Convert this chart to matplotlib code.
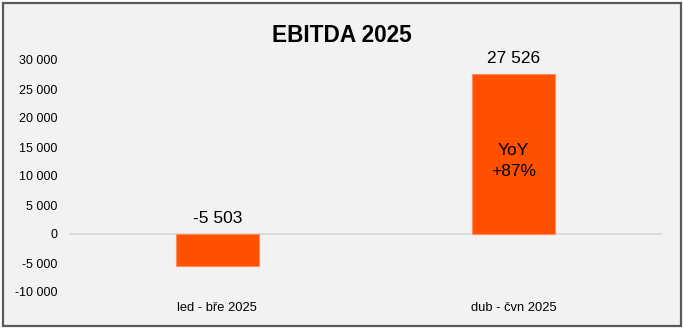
import matplotlib.pyplot as plt
import numpy as np
from matplotlib.patches import Rectangle
from matplotlib.ticker import FuncFormatter, MultipleLocator

# data
CATEGORIES = ["led - bře 2025", "dub - čvn 2025"]
EBITDA = [-5503, 27526]
YOY_LABEL = "YoY\n+87%"
TITLE = "EBITDA 2025"

BAR_COLOR = "#FF5000"
BG_COLOR = "#F2F2F2"


def _fmt_thousands(v: float) -> str:
    return f"{int(round(v)):,}".replace(",", " ")


def main() -> None:
    plt.rcParams.update(
        {
            "font.family": ["Liberation Sans", "DejaVu Sans"],
            "font.size": 9,
        }
    )

    fig = plt.figure(figsize=(6.83, 3.28), dpi=100, facecolor="white")

    # grey panel with dark frame
    fig.patches.append(
        Rectangle(
            (2.5 / 683, 2.5 / 328),
            678 / 683,
            323 / 328,
            transform=fig.transFigure,
            facecolor=BG_COLOR,
            edgecolor="#595959",
            linewidth=1.6,
            zorder=-1,
        )
    )

    ax = fig.add_axes([69 / 683, 36 / 328, 593 / 683, 232 / 328])
    ax.set_facecolor("none")
    ax.set_zorder(2)

    x = np.arange(len(CATEGORIES), dtype=float)
    ax.axhline(0, color="#D9D9D9", linewidth=1.3, zorder=1)
    bars = ax.bar(
        x,
        EBITDA,
        width=0.28,
        color=BAR_COLOR,
        edgecolor="#FF8A5C",
        linewidth=0.8,
        zorder=2,
    )

    # value labels above the bar (or above zero for negative bars)
    for b, v in zip(bars, EBITDA):
        base = max(v, 0)
        ax.annotate(
            _fmt_thousands(v),
            xy=(b.get_x() + b.get_width() / 2, base),
            xytext=(0, 6),
            textcoords="offset points",
            ha="center",
            va="bottom",
            fontsize=12.5,
            color="black",
        )

    # YoY note inside the second bar
    ax.text(
        x[1],
        EBITDA[1] * 0.46,
        YOY_LABEL,
        ha="center",
        va="center",
        fontsize=12.5,
        linespacing=1.5,
        color="black",
        zorder=3,
    )

    ax.set_xlim(-0.5, 1.5)
    ax.set_ylim(-10000, 30000)
    ax.yaxis.set_major_locator(MultipleLocator(5000))
    ax.yaxis.set_major_formatter(FuncFormatter(lambda v, _: _fmt_thousands(v)))
    ax.set_xticks(x)
    ax.set_xticklabels(CATEGORIES, fontsize=9.3)
    ax.tick_params(axis="y", length=0, pad=8.5, labelsize=9)
    ax.tick_params(axis="x", length=0, pad=7)
    for s in ax.spines.values():
        s.set_visible(False)

    fig.text(
        0.5007,
        1 - 36 / 328,
        TITLE,
        ha="center",
        va="center",
        fontsize=16.3,
        fontweight="bold",
    )

    fig.savefig("out.png", dpi=100, facecolor="white")
    plt.close(fig)


if __name__ == "__main__":
    main()
